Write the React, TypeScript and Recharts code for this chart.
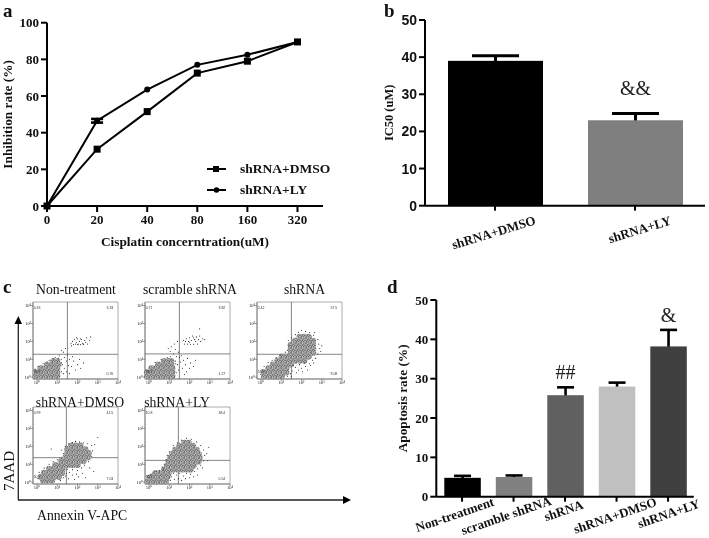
import { Bar, BarChart, ErrorBar, Legend, Line, LineChart, ReferenceArea, ReferenceDot, ReferenceLine, Scatter, ScatterChart, XAxis, YAxis } from 'recharts';

const SERIF = '"Liberation Serif", serif';
const SANS = '"Liberation Sans", sans-serif';

// panel a
const doses = ['0', '20', '40', '80', '160', '320'];
const dmsoRate = [0, 31, 51.5, 72.5, 79, 89.5];
const lyRate = [0, 46.5, 63.5, 77, 82.5, 89.5];
const lyRateErr = [0, 1, 0, 0, 0, 0];

// panel b
const icGroups = ['shRNA+DMSO', 'shRNA+LY'];
const icValues = [39, 23];
const icErrors = [1.4, 1.8];
const icMarks = ['', '&&'];
const icColors = ['#000000', '#7f7f7f'];

// panel d
const apoGroups = ['Non-treatment', 'scramble shRNA', 'shRNA', 'shRNA+DMSO', 'shRNA+LY'];
const apoValues = [4.8, 5, 25.8, 28, 38.2];
const apoErrors = [0.5, 0.4, 2, 1, 4.2];
const apoMarks = ['', '', '##', '', '&'];
const apoColors = ['#000000', '#808080', '#606060', '#c0c0c0', '#404040'];

// panel c, log10 readings
const logTicks = [0, 1, 2, 3, 4];
const logLabels = ['10⁰', '10¹', '10²', '10³', '10⁴'];

const p1Dense = [[-.05,.05],[.17,.05],[.39,.05],[.61,.05],[.83,.05],[1,.05],[-.05,.27],[.17,.27],[.39,.27],[.61,.27],[.83,.27],[1,.27],[.17,.49],[.39,.49],[.61,.49],[.83,.49],[1,.49],[.5,.71],[.72,.71],[.94,.71],[1.05,.71],[.8,.88],[1,.88]];
const p1Sparse = [[1.68,1.9],[1.75,2],[1.8,1.82],[1.85,2.1],[1.9,1.85],[1.95,1.95],[2,2.15],[2.05,1.85],[2.1,2],[2.15,1.82],[2.2,2.1],[2.25,1.9],[2.3,1.85],[2.35,2.05],[2.4,1.95],[2.45,2.2],[2.5,1.85],[2.6,2.05],[2.65,2.25],[1.7,1.75],[2,1.82],[2.28,1.83],[1.95,2.2],[2.15,2.15],[1.1,1.2],[1.2,1],[1.3,1.4],[1.35,1.1],[1.4,1.6],[1.45,.9],[1.5,1.25],[1.2,1.5],[1.05,1.05],[.9,1.1],[1.25,.7],[1.35,.5],[1.45,.3],[1.6,.2],[1.7,.6],[1.8,.9],[1.9,.4],[2,.7],[2.1,1],[2.15,.5],[1.6,1],[1.75,1.15],[1.55,.65],[2.3,.8],[1.3,.2],[1.2,.3],[1.2,.8],[.8,1.05],[.6,.95],[.3,.75],[.05,.6],[-.1,.45]];
const p2Dense = [[-.1,.05],[.12,.05],[.34,.05],[.56,.05],[.78,.05],[1,.05],[1.15,.05],[-.1,.27],[.12,.27],[.34,.27],[.56,.27],[.78,.27],[1,.27],[1.15,.27],[.12,.49],[.34,.49],[.56,.49],[.78,.49],[1,.49],[1.15,.49],[.45,.71],[.67,.71],[.89,.71],[1.1,.71],[.75,.9],[.97,.9],[1.1,.9]];
const p2Sparse = [[1.7,2.05],[1.75,1.85],[1.85,2.15],[1.9,1.85],[1.95,2],[2,2.2],[2.05,1.84],[2.1,2.05],[2.15,2.3],[2.2,1.84],[2.25,2.1],[2.3,2],[2.35,2.25],[2.4,1.85],[2.45,2.1],[2.5,2.3],[2.55,2],[2.65,2.15],[2.75,2.1],[2.5,2.7],[1.8,2],[2,1.95],[2.2,2.2],[.95,1.6],[1.05,1.45],[1.1,1.7],[1.2,1.3],[1.25,1.85],[1.3,1.55],[1.4,2],[1.35,1.15],[1.45,1.4],[1.5,1.1],[1.55,.85],[1.6,1.2],[1.65,.5],[1.7,.95],[1.8,.7],[1.85,.3],[1.9,1.05],[2,.5],[2.05,.8],[2.2,.6],[1.4,.7],[1.45,.4],[1.3,.9],[1.35,.25],[1.3,.75],[.9,1.1],[.6,.98],[.3,.82],[1.05,1.15],[1.75,.15],[2.3,.95]];
const p3Dense = [[.15,.05],[.37,.05],[.59,.05],[.81,.05],[1.03,.05],[.15,.27],[.37,.27],[.59,.27],[.81,.27],[1.03,.27],[1.25,.27],[.37,.49],[.59,.49],[.81,.49],[1.03,.49],[1.25,.49],[.59,.71],[.81,.71],[1.03,.71],[1.25,.71],[1.47,.71],[.81,.93],[1.03,.93],[1.25,.93],[1.47,.93],[1.69,.93],[1.91,.93],[2.13,.93],[1.03,1.15],[1.25,1.15],[1.47,1.15],[1.69,1.15],[1.91,1.15],[2.13,1.15],[2.35,1.15],[1.47,1.37],[1.69,1.37],[1.91,1.37],[2.13,1.37],[2.35,1.37],[2.57,1.37],[1.47,1.59],[1.69,1.59],[1.91,1.59],[2.13,1.59],[2.35,1.59],[2.57,1.59],[1.47,1.81],[1.69,1.81],[1.91,1.81],[2.13,1.81],[2.35,1.81],[2.57,1.81],[1.69,2.03],[1.91,2.03],[2.13,2.03],[2.35,2.03],[2.57,2.03],[1.91,2.25],[2.13,2.25],[2.35,2.25]];
const p3Sparse = [[1.5,2.2],[1.7,2.38],[1.85,2.5],[2,2.62],[2.2,2.55],[2.4,2.5],[2.6,2.35],[2.8,2.1],[2.85,1.85],[2.9,1.6],[2.8,1.3],[2.7,1.05],[2.55,.95],[2.4,.75],[2.2,.6],[2,.5],[1.85,.4],[1.7,.55],[1.55,.35],[1.6,.65],[1.45,.2],[1.3,.05],[1.5,.05],[1.9,.7],[2.15,.8],[2.45,.65],[2.95,1.45],[1.3,1.5],[1.2,1.4],[.95,1.25],[.75,1.1],[.55,.95],[.35,.82],[.15,.6],[.05,.42],[-.02,.15],[1.38,1.75],[1.35,2.05],[2.65,2.5],[3,1.75],[1.75,.25],[2.05,.3],[2.3,.4],[2.6,.8]];
const p4Dense = [[.3,.1],[.52,.1],[.74,.1],[.2,.3],[.42,.3],[.64,.3],[.86,.3],[1.08,.3],[.35,.52],[.57,.52],[.79,.52],[1.01,.52],[1.23,.52],[.6,.74],[.82,.74],[1.04,.74],[1.26,.74],[.9,.96],[1.12,.96],[1.34,.96],[1.56,.96],[1.78,.96],[2,.96],[1.2,1.18],[1.42,1.18],[1.64,1.18],[1.86,1.18],[2.08,1.18],[2.3,1.18],[1.42,1.4],[1.64,1.4],[1.86,1.4],[2.08,1.4],[2.3,1.4],[2.52,1.4],[1.5,1.62],[1.72,1.62],[1.94,1.62],[2.16,1.62],[2.38,1.62],[2.55,1.62],[1.5,1.84],[1.72,1.84],[1.94,1.84],[2.16,1.84],[2.38,1.84],[1.7,2.04],[1.92,2.04],[2.14,2.04]];
const p4Sparse = [[1.4,2],[1.55,2.15],[1.75,2.22],[1.9,2.28],[2.1,2.25],[2.3,2.2],[2.5,2.15],[2.7,2.05],[2.75,1.75],[2.7,1.45],[2.55,1.15],[2.35,.95],[2.2,.8],[2,.65],[1.75,.7],[1.6,.55],[1.5,.72],[1.45,.5],[1.4,.35],[1.55,.2],[1.75,.4],[1.95,.45],[2.25,.5],[2.4,.25],[1.3,.25],[1.15,.1],[1.2,1.35],[1,1.25],[.8,1.15],[.6,1],[.35,.8],[.1,.55],[.05,.2],[.7,1.85],[2.6,.8],[2.8,.6],[2.85,2.1],[3,2.5],[1.85,.15],[2.05,.3],[1.3,1.6],[1.2,1.8]];
const p5Dense = [[-.05,.05],[.17,.05],[.39,.05],[.61,.05],[.83,.05],[.05,.27],[.27,.27],[.49,.27],[.71,.27],[.9,.27],[.3,.49],[.52,.49],[.74,.49],[.96,.49],[.75,.71],[.97,.71],[1.19,.71],[1.41,.71],[1.63,.71],[1.85,.71],[2.05,.71],[.9,.93],[1.12,.93],[1.34,.93],[1.56,.93],[1.78,.93],[2,.93],[2.2,.93],[.95,1.15],[1.17,1.15],[1.39,1.15],[1.61,1.15],[1.83,1.15],[2.05,1.15],[2.27,1.15],[2.45,1.15],[1.05,1.37],[1.27,1.37],[1.49,1.37],[1.71,1.37],[1.93,1.37],[2.15,1.37],[2.37,1.37],[2.5,1.37],[1.15,1.59],[1.37,1.59],[1.59,1.59],[1.81,1.59],[2.03,1.59],[2.25,1.59],[2.45,1.59],[1.3,1.81],[1.52,1.81],[1.74,1.81],[1.96,1.81],[2.18,1.81],[2.35,1.81],[1.5,2.03],[1.72,2.03],[1.94,2.03],[2.16,2.03],[1.75,2.2],[1.95,2.2]];
const p5Sparse = [[1.2,2.05],[1.4,2.2],[1.6,2.35],[1.85,2.45],[2.1,2.4],[2.35,2.25],[2.55,2.05],[2.7,1.8],[2.75,1.5],[2.7,1.2],[2.55,.95],[2.4,.75],[2.25,.6],[2.05,.45],[1.85,.5],[1.7,.35],[1.5,.5],[1.35,.4],[1.2,.5],[1.1,.3],[1.25,.15],[1.45,.2],[1.6,.1],[1.8,.2],[2,.25],[1.05,.1],[.7,.7],[.5,.65],[.75,1],[.65,.85],[.35,.62],[.1,.45],[-.1,.35],[.9,1.5],[1,1.7],[2.85,1.6],[2.9,1.2],[2.4,.4],[2.2,.3],[2.95,1.95],[2.65,.8],[.85,1.25]];

const flowPanels = [
  { title: 'Non-treatment', left: 32.7, top: 302.3, titleX: 76, titleY: 294, dense: p1Dense, sparse: p1Sparse, vx: 1.5, hy: 1.28, quad: ['0.33', '3.33', '95.6', '0.76'] },
  { title: 'scramble shRNA', left: 145.3, top: 302.3, titleX: 190, titleY: 294, dense: p2Dense, sparse: p2Sparse, vx: 1.5, hy: 1.3, quad: ['0.71', '3.82', '94.2', '1.27'] },
  { title: 'shRNA', left: 256.7, top: 302.3, titleX: 304.5, titleY: 294, dense: p3Dense, sparse: p3Sparse, vx: 1.5, hy: 1.28, quad: ['2.42', '37.5', '51.0', '9.08'] },
  { title: 'shRNA+DMSO', left: 33.3, top: 407, titleX: 80, titleY: 407, dense: p4Dense, sparse: p4Sparse, vx: 1.45, hy: 1.37, quad: ['0.99', '41.5', '50.5', '7.03'] },
  { title: 'shRNA+LY', left: 145.3, top: 407, titleX: 177, titleY: 407, dense: p5Dense, sparse: p5Sparse, vx: 1.45, hy: 1.22, quad: ['10.8', '38.4', '50.2', '0.54'] },
];

const lineData = doses.map((dose, i) => ({ dose, dmso: dmsoRate[i], ly: lyRate[i], lyErr: lyRateErr[i] }));
const icData = icGroups.map((name, i) => ({ name, value: icValues[i], err: icErrors[i], mark: icMarks[i], color: icColors[i] }));
const apoData = apoGroups.map((name, i) => ({ name, value: apoValues[i], err: apoErrors[i], mark: apoMarks[i], color: apoColors[i] }));
const toPoints = (rows: number[][]) => rows.map(([x, y]) => ({ x, y }));

const boldTick = (fontFamily: string, fontSize: number) => ({ fontFamily, fontSize, fontWeight: 700, fill: '#111' });

function SquareDot({ cx, cy }: any) {
  return <rect x={cx - 3.5} y={cy - 3.5} width={7} height={7} fill="#000" />;
}

function RoundDot({ cx, cy }: any) {
  return <circle cx={cx} cy={cy} r={3} fill="#000" />;
}

function LineLegend() {
  const rows = [
    { label: 'shRNA+DMSO', square: true },
    { label: 'shRNA+LY', square: false },
  ];
  return (
    <div>
      {rows.map((row) => (
        <div key={row.label} style={{ display: 'flex', alignItems: 'center', height: 21, fontFamily: SERIF, fontSize: 13.5, fontWeight: 700, color: '#111' }}>
          <svg width={33} height={10} style={{ flex: 'none' }}>
            <line x1={0} x2={19} y1={5} y2={5} stroke="#000" strokeWidth={2} />
            {row.square ? <rect x={6} y={2} width={6} height={6} /> : <circle cx={9.5} cy={5} r={2.8} />}
          </svg>
          {row.label}
        </div>
      ))}
    </div>
  );
}

// bar with an upper whisker only, scaled from the bar's own pixel height
function barShape(capWidth: number, capStroke: number, markGap: number, markSize: number) {
  return (props: any) => {
    const { x, y, width, height, payload } = props;
    const mid = x + width / 2;
    const top = y - (height / payload.value) * payload.err;
    return (
      <g>
        <line x1={mid} x2={mid} y1={y + 1} y2={top} stroke="#000" strokeWidth={capStroke} />
        <line x1={mid - capWidth / 2} x2={mid + capWidth / 2} y1={top} y2={top} stroke="#000" strokeWidth={capStroke} />
        <rect x={x} y={y} width={width} height={height} fill={payload.color} />
        {payload.mark ? (
          <text x={mid} y={top - markGap} textAnchor="middle" fontFamily={SERIF} fontSize={markSize} fill="#222">
            {payload.mark}
          </text>
        ) : null}
      </g>
    );
  };
}

function slantTick(angle: number, fontSize: number, dxs: number[], dys: number[]) {
  return ({ x, y, payload, index }: any) => (
    <text
      transform={`translate(${x + dxs[index]},${y + dys[index]}) rotate(${angle})`}
      textAnchor="middle"
      fontFamily={SERIF}
      fontSize={fontSize}
      fontWeight={700}
      fill="#111"
    >
      {payload.value}
    </text>
  );
}

function FlowPlot({ panel }: { panel: (typeof flowPanels)[number] }) {
  const [ul, ur, ll, lr] = panel.quad;
  const tiny = { fontSize: 3.5, fontFamily: SANS, fill: '#333' };
  return (
    <div style={{ position: 'absolute', left: panel.left - 14, top: panel.top - 4, filter: 'blur(0.4px)' }}>
      <ScatterChart width={103} height={92} margin={{ top: 4, right: 4, bottom: 0, left: 0 }}>
        <XAxis
          type="number"
          dataKey="x"
          domain={[-0.2, 4]}
          ticks={logTicks}
          tickFormatter={(v: number) => logLabels[v]}
          tick={{ fontSize: 4.5, fontFamily: SERIF, fill: '#222' }}
          tickSize={2}
          tickMargin={0}
          height={11}
          stroke="#555"
          strokeWidth={0.6}
        />
        <YAxis
          type="number"
          dataKey="y"
          domain={[-0.1, 4.2]}
          ticks={logTicks}
          tickFormatter={(v: number) => logLabels[v]}
          tick={{ fontSize: 4.5, fontFamily: SERIF, fill: '#222' }}
          tickSize={2}
          tickMargin={0}
          width={14}
          stroke="#555"
          strokeWidth={0.6}
        />
        <ReferenceArea x1={-0.2} x2={4} y1={-0.1} y2={4.2} fill="none" stroke="#888" strokeWidth={0.7} />
        <Scatter
          data={toPoints(panel.dense)}
          isAnimationActive={false}
          shape={(p: any) => (
            <g>
              <circle cx={p.cx} cy={p.cy} r={3.1} fill="#b4b4b4" />
              <circle cx={p.cx} cy={p.cy} r={3.1} fill="url(#flow-speckle)" />
            </g>
          )}
        />
        <Scatter data={toPoints(panel.sparse)} isAnimationActive={false} shape={(p: any) => <circle cx={p.cx} cy={p.cy} r={0.55} fill="#222" />} />
        <ReferenceLine x={panel.vx} stroke="#777" strokeWidth={0.9} />
        <ReferenceLine y={panel.hy} stroke="#777" strokeWidth={0.9} />
        <ReferenceDot x={0} y={3.9} r={0} stroke="none" label={{ value: ul, ...tiny }} />
        <ReferenceDot x={3.6} y={3.9} r={0} stroke="none" label={{ value: ur, ...tiny }} />
        <ReferenceDot x={0} y={0.3} r={0} stroke="none" label={{ value: ll, ...tiny }} />
        <ReferenceDot x={3.6} y={0.2} r={0} stroke="none" label={{ value: lr, ...tiny }} />
      </ScatterChart>
    </div>
  );
}

const panelLetter = (text: string, left: number, top: number) => (
  <div style={{ position: 'absolute', left, top, fontFamily: SERIF, fontSize: 19, fontWeight: 700, lineHeight: '20px', color: '#111' }}>{text}</div>
);

export default function App() {
  return (
    <div style={{ position: 'absolute', left: 0, top: 0, width: 709, height: 538, background: '#fff', overflow: 'hidden', filter: 'blur(0.3px)' }}>
      {/* speckle texture for the crowded parts of the dot plots */}
      <svg width={0} height={0} style={{ position: 'absolute' }}>
        <defs>
          <pattern id="flow-speckle" width={5} height={5} patternUnits="userSpaceOnUse">
            <rect x={0.4} y={0.6} width={0.9} height={0.9} fill="#111" />
            <rect x={2.6} y={0.2} width={0.8} height={0.8} fill="#222" />
            <rect x={3.9} y={1.6} width={0.9} height={0.9} fill="#111" />
            <rect x={1.5} y={2.2} width={0.9} height={0.9} fill="#222" />
            <rect x={0.2} y={3.4} width={0.8} height={0.8} fill="#222" />
            <rect x={3} y={3.5} width={0.9} height={0.9} fill="#111" />
            <rect x={1.8} y={4.2} width={0.7} height={0.7} fill="#333" />
            <rect x={2.7} y={1.9} width={0.6} height={0.6} fill="#444" />
          </pattern>
        </defs>
      </svg>

      {panelLetter('a', 3, 1)}
      {panelLetter('b', 384, 1)}
      {panelLetter('c', 3, 277)}
      {panelLetter('d', 387, 277)}

      {/* a */}
      <div style={{ position: 'absolute', left: 0, top: 10 }}>
        <LineChart width={330} height={245} data={lineData} margin={{ top: 12.7, right: 7, bottom: 0, left: 0 }}>
          <XAxis
            dataKey="dose"
            scale="point"
            padding={{ left: 0, right: 25.5 }}
            interval={0}
            height={49}
            tick={boldTick(SERIF, 13)}
            tickSize={6}
            tickMargin={3}
            stroke="#000"
            strokeWidth={2}
            label={{ value: 'Cisplatin concerntration(uM)', position: 'insideBottom', offset: 9, style: boldTick(SERIF, 13.3) }}
          />
          <YAxis
            domain={[0, 100]}
            ticks={[0, 20, 40, 60, 80, 100]}
            width={47}
            tick={boldTick(SERIF, 13)}
            tickSize={6}
            tickMargin={2}
            stroke="#000"
            strokeWidth={2}
            label={{ value: 'Inhibition rate (%)', angle: -90, position: 'insideLeft', offset: 7, style: { ...boldTick(SERIF, 13.3), textAnchor: 'middle' } }}
          />
          <Legend layout="vertical" align="center" verticalAlign="middle" content={<LineLegend />} wrapperStyle={{ position: 'absolute', left: 207, top: 148, width: 125 }} />
          <Line dataKey="dmso" type="linear" stroke="#000" strokeWidth={2} dot={<SquareDot />} activeDot={false} isAnimationActive={false} />
          <Line dataKey="ly" type="linear" stroke="#000" strokeWidth={2} dot={<RoundDot />} activeDot={false} isAnimationActive={false}>
            <ErrorBar dataKey="lyErr" width={6} strokeWidth={2.6} stroke="#000" />
          </Line>
        </LineChart>
      </div>

      {/* b */}
      <div style={{ position: 'absolute', left: 370, top: 10 }}>
        <BarChart width={339} height={245.7} data={icData} margin={{ top: 10, right: 4, bottom: 0, left: 0 }}>
          <XAxis
            dataKey="name"
            interval={0}
            height={50}
            tick={slantTick(-17, 13, [0, 6], [24, 21])}
            tickSize={5}
            stroke="#000"
            strokeWidth={2}
          />
          <YAxis
            domain={[0, 50]}
            ticks={[0, 10, 20, 30, 40, 50]}
            width={55}
            tick={boldTick(SANS, 14)}
            tickSize={6}
            tickMargin={2}
            stroke="#000"
            strokeWidth={2}
            label={{ value: 'IC50 (uM)', angle: -90, position: 'insideLeft', offset: 19, style: { ...boldTick(SERIF, 12.5), textAnchor: 'middle' } }}
          />
          <Bar dataKey="value" barSize={95} isAnimationActive={false} shape={barShape(47, 3, 19, 20)} />
        </BarChart>
      </div>

      {/* c */}
      {flowPanels.map((panel) => (
        <FlowPlot key={panel.title} panel={panel} />
      ))}
      <svg width={370} height={268} style={{ position: 'absolute', left: 0, top: 270, pointerEvents: 'none' }}>
        <line x1={18.3} x2={18.3} y1={230} y2={52} stroke="#222" strokeWidth={1.3} />
        <polygon points="18.3,46 14.5,54 22,54" fill="#000" />
        <line x1={18} x2={343} y1={230} y2={230} stroke="#222" strokeWidth={1.3} />
        <polygon points="351,230 343,226 343,234" fill="#000" />
        <text transform="translate(14,201) rotate(-90)" textAnchor="middle" fontFamily={SERIF} fontSize={15} fill="#111">7AAD</text>
        <text x={37} y={250} fontFamily={SERIF} fontSize={13.7} fill="#111">Annexin V-APC</text>
        {flowPanels.map((panel) => (
          <text key={panel.title} x={panel.titleX} y={panel.titleY - 270} textAnchor="middle" fontFamily={SERIF} fontSize={13.7} fill="#111">
            {panel.title}
          </text>
        ))}
      </svg>

      {/* d */}
      <div style={{ position: 'absolute', left: 380, top: 285 }}>
        <BarChart width={329} height={253} data={apoData} margin={{ top: 15, right: 15.2, bottom: 0, left: 0 }}>
          <XAxis
            dataKey="name"
            interval={0}
            height={41.3}
            tick={slantTick(-19, 13, [-6, -6, 0, 0, 2], [15, 16, 11, 16, 14])}
            tickSize={5}
            stroke="#000"
            strokeWidth={2}
          />
          <YAxis
            domain={[0, 50]}
            ticks={[0, 10, 20, 30, 40, 50]}
            width={56.3}
            tick={boldTick(SERIF, 13)}
            tickSize={6}
            tickMargin={2}
            stroke="#000"
            strokeWidth={2}
            label={{ value: 'Apoptosis rate (%)', angle: -90, position: 'insideLeft', offset: 22, style: { ...boldTick(SERIF, 13.3), textAnchor: 'middle' } }}
          />
          <Bar dataKey="value" barSize={36.5} isAnimationActive={false} shape={barShape(17, 2.6, 8, 20)} />
        </BarChart>
      </div>
    </div>
  );
}
